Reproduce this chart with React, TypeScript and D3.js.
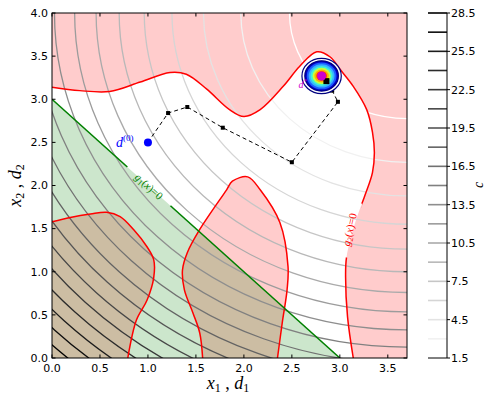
import * as d3 from "d3";

const W = 489;
const H = 394;
const PLOT = { left: 52, right: 407, top: 13, bottom: 358 };
const CBAR = { left: 428, right: 447 };

const X_TICKS = [0, 0.5, 1, 1.5, 2, 2.5, 3, 3.5];
const Y_TICKS = [0, 0.5, 1, 1.5, 2, 2.5, 3, 3.5, 4];

// contour levels of c (circles around CENTER, c = squared distance)
const LEVELS = [1.5, 3, 4.5, 6, 7.5, 9, 10.5, 12, 13.5, 15, 16.5, 18, 19.5, 21, 22.5, 24, 25.5, 27, 28.5];
const CBAR_LABELS = [1.5, 4.5, 7.5, 10.5, 13.5, 16.5, 19.5, 22.5, 25.5, 28.5];
const CENTER_X = 3.7;
const CENTER_Y = 4.0;

// g1(x) = 0 : straight boundary
const G1_X = [0, 3];
const G1_Y = [3, 0];

// g2(x) = 0 : three branches
const G2_TOP_X = [0, 0.29, 0.6, 0.92, 1.23, 1.4, 1.61, 1.85, 2.0, 2.17, 2.41, 2.58, 2.76, 2.9, 3.0, 3.14, 3.28, 3.34, 3.36, 3.34, 3.26, 3.16, 3.07, 3.06, 3.08, 3.14];
const G2_TOP_Y = [3.14, 3.1, 3.09, 3.2, 3.31, 3.29, 3.12, 2.88, 2.8, 2.88, 3.15, 3.38, 3.55, 3.49, 3.35, 3.15, 2.88, 2.62, 2.38, 2.15, 1.88, 1.57, 1.17, 0.94, 0.48, 0];
const G2_MID_X = [1.57, 1.54, 1.47, 1.38, 1.36, 1.41, 1.54, 1.82, 1.88, 2.04, 2.17, 2.375, 2.46, 2.45, 2.4, 2.35];
const G2_MID_Y = [0, 0.29, 0.52, 0.79, 1.02, 1.22, 1.49, 1.95, 2.05, 2.1, 1.95, 1.57, 1.06, 0.79, 0.41, 0];
const G2_LEFT_X = [0, 0.19, 0.4, 0.57, 0.71, 0.85, 0.99, 1.06, 1.06, 0.99, 0.88, 0.79];
const G2_LEFT_Y = [1.58, 1.63, 1.67, 1.69, 1.64, 1.49, 1.29, 1.14, 0.93, 0.67, 0.44, 0];

// optimisation path d(0) -> d*
const PATH_X = [1.0, 1.21, 1.41, 1.78, 2.5, 2.98, 2.92, 2.86];
const PATH_Y = [2.5, 2.84, 2.91, 2.67, 2.27, 2.97, 3.1, 3.21];
const OPT_X = 2.81;
const OPT_Y = 3.27;

// density rings around the optimum (outer to inner)
const RING_R = [0.205, 0.175, 0.155, 0.135, 0.115, 0.095, 0.075, 0.055];
const RING_FILL = ["#ffffff", "#0000c8", "#1c5cff", "#36b4ff", "#3ef2d6", "#c6ff3c", "#ffae00", "#ff3000"];

export default function App() {
  const x = d3.scaleLinear().domain([0, 3.7]).range([PLOT.left, PLOT.right]);
  const y = d3.scaleLinear().domain([0, 4]).range([PLOT.bottom, PLOT.top]);
  const cb = d3.scaleLinear().domain([1.5, 28.5]).range([PLOT.bottom, PLOT.top]);
  const gray = d3.scaleLinear<string>().domain([1.5, 28.5]).range(["#ffffff", "#000000"]);

  const pts = (xs: number[], ys: number[]) => xs.map((v, i) => [x(v), y(ys[i])] as [number, number]);
  const smooth = d3.line().curve(d3.curveCatmullRom.alpha(0.5));
  const straight = d3.line();

  const topLine = smooth(pts(G2_TOP_X, G2_TOP_Y)) ?? "";
  const midLine = smooth(pts(G2_MID_X, G2_MID_Y)) ?? "";
  const leftLine = smooth(pts(G2_LEFT_X, G2_LEFT_Y)) ?? "";
  const topArea = `${topLine}L${x(3.7)},${y(0)}L${x(3.7)},${y(4)}L${x(0)},${y(4)}Z`;
  const midArea = `${midLine}Z`;
  const leftArea = `${leftLine}L${x(0)},${y(0)}Z`;
  const g1Line = straight(pts(G1_X, G1_Y)) ?? "";
  const g1Area = `${g1Line}L${x(0)},${y(0)}Z`;
  const pathLine = straight(pts(PATH_X, PATH_Y)) ?? "";

  const g1Angle = (Math.atan2(y(0) - y(3), x(3) - x(0)) * 180) / Math.PI;
  const g1Lx = x(1.01);
  const g1Ly = y(1.99);
  const g2Lx = x(3.1);
  const g2Ly = y(1.49);

  const serif = "'Liberation Serif', 'DejaVu Serif', serif";
  const sans = "'DejaVu Sans', sans-serif";

  return (
    <svg width={W} height={H} style={{ position: "absolute", left: 0, top: 0, background: "#fff" }}>
      <defs>
        <clipPath id="plot">
          <rect x={PLOT.left} y={PLOT.top} width={PLOT.right - PLOT.left} height={PLOT.bottom - PLOT.top} />
        </clipPath>
        <mask id="g1gap">
          <rect x={0} y={0} width={W} height={H} fill="#fff" />
          <rect x={-29} y={-7} width={58} height={14} fill="#000" transform={`translate(${g1Lx},${g1Ly}) rotate(${g1Angle})`} />
        </mask>
        <mask id="g2gap">
          <rect x={0} y={0} width={W} height={H} fill="#fff" />
          <rect x={-28} y={-7} width={56} height={14} fill="#000" transform={`translate(${g2Lx},${g2Ly}) rotate(-77)`} />
        </mask>
      </defs>

      <g clipPath="url(#plot)">
        <path d={topArea} fill="rgba(255,0,0,0.2)" />
        <path d={midArea} fill="rgba(255,0,0,0.2)" />
        <path d={leftArea} fill="rgba(255,0,0,0.2)" />
        <path d={g1Area} fill="rgba(0,128,0,0.2)" />

        {LEVELS.map((l) => (
          <ellipse
            key={l}
            cx={x(CENTER_X)}
            cy={y(CENTER_Y)}
            rx={x(CENTER_X + Math.sqrt(l)) - x(CENTER_X)}
            ry={y(CENTER_Y) - y(CENTER_Y + Math.sqrt(l))}
            fill="none"
            stroke={gray(l)}
            strokeWidth={1.3}
          />
        ))}

        <g mask="url(#g2gap)" fill="none" stroke="#ff0000" strokeWidth={1.5}>
          <path d={topLine} />
          <path d={midLine} />
          <path d={leftLine} />
        </g>
        <path d={g1Line} mask="url(#g1gap)" fill="none" stroke="#008000" strokeWidth={1.5} />

        <path d={pathLine} fill="none" stroke="#000" strokeWidth={1} strokeDasharray="4,3" />
        {PATH_X.slice(1, -1).map((v, i) => (
          <rect key={i} x={x(v) - 2} y={y(PATH_Y[i + 1]) - 2} width={4} height={4} fill="#000" />
        ))}

        {RING_R.map((r, i) => (
          <ellipse
            key={r}
            cx={x(OPT_X)}
            cy={y(OPT_Y)}
            rx={x(OPT_X + r) - x(OPT_X)}
            ry={y(OPT_Y) - y(OPT_Y + r)}
            fill={RING_FILL[i]}
            stroke={i < 2 ? "#00007f" : "none"}
            strokeWidth={1.2}
          />
        ))}
        <rect x={x(PATH_X[7]) - 3} y={y(PATH_Y[7]) - 3} width={6} height={6} fill="#000" />
        <circle cx={x(OPT_X)} cy={y(OPT_Y)} r={4.5} fill="#cc00cc" />
        <circle cx={x(PATH_X[0])} cy={y(PATH_Y[0])} r={4} fill="#0000ff" />
      </g>

      {/* inline contour labels */}
      <text
        transform={`translate(${g1Lx},${g1Ly}) rotate(${g1Angle})`}
        textAnchor="middle"
        dy="0.35em"
        fill="#008000"
        fontFamily={serif}
        fontSize={11}
      >
        <tspan fontStyle="italic">g</tspan>
        <tspan fontSize={8} dy={2}>1</tspan>
        <tspan dy={-2}>(</tspan>
        <tspan fontStyle="italic">x</tspan>
        <tspan>)=0</tspan>
      </text>
      <text
        transform={`translate(${g2Lx},${g2Ly}) rotate(-77)`}
        textAnchor="middle"
        dy="0.35em"
        fill="#ff0000"
        fontFamily={serif}
        fontSize={11}
      >
        <tspan fontStyle="italic">g</tspan>
        <tspan fontSize={8} dy={2}>2</tspan>
        <tspan dy={-2}>(</tspan>
        <tspan fontStyle="italic">x</tspan>
        <tspan>)=0</tspan>
      </text>

      {/* point labels */}
      <text x={x(PATH_X[0]) - 32} y={y(PATH_Y[0]) + 5} fill="#0000ff" fontFamily={serif} fontSize={14}>
        <tspan fontStyle="italic">d</tspan>
        <tspan fontSize={9} dy={-6}>(0)</tspan>
      </text>
      <text x={x(OPT_X) - 23} y={y(OPT_Y) + 12} fill="#cc00cc" fontFamily={serif} fontSize={10}>
        <tspan fontStyle="italic">d</tspan>
        <tspan fontSize={7} dy={-5}>*</tspan>
      </text>

      {/* frame and inward ticks */}
      <rect
        x={PLOT.left}
        y={PLOT.top}
        width={PLOT.right - PLOT.left}
        height={PLOT.bottom - PLOT.top}
        fill="none"
        stroke="#000"
        strokeWidth={1}
      />
      {X_TICKS.map((t) => (
        <g key={t}>
          <line x1={x(t)} x2={x(t)} y1={PLOT.bottom} y2={PLOT.bottom - 3.5} stroke="#000" />
          <line x1={x(t)} x2={x(t)} y1={PLOT.top} y2={PLOT.top + 3.5} stroke="#000" />
          <text x={x(t)} y={PLOT.bottom + 14} textAnchor="middle" fontFamily={sans} fontSize={11}>
            {t.toFixed(1)}
          </text>
        </g>
      ))}
      {Y_TICKS.map((t) => (
        <g key={t}>
          <line x1={PLOT.left} x2={PLOT.left + 3.5} y1={y(t)} y2={y(t)} stroke="#000" />
          <line x1={PLOT.right} x2={PLOT.right - 3.5} y1={y(t)} y2={y(t)} stroke="#000" />
          <text x={PLOT.left - 4} y={y(t)} dy="0.35em" textAnchor="end" fontFamily={sans} fontSize={11}>
            {t.toFixed(1)}
          </text>
        </g>
      ))}

      {/* axis titles */}
      <text x={228} y={389} textAnchor="middle" fontFamily={serif} fontSize={18}>
        <tspan fontStyle="italic">x</tspan>
        <tspan fontSize={12} dy={3}>1</tspan>
        <tspan dy={-3}> , </tspan>
        <tspan fontStyle="italic">d</tspan>
        <tspan fontSize={12} dy={3}>1</tspan>
      </text>
      <text transform={`translate(21,${(PLOT.top + PLOT.bottom) / 2}) rotate(-90)`} textAnchor="middle" fontFamily={serif} fontSize={18}>
        <tspan fontStyle="italic">x</tspan>
        <tspan fontSize={12} dy={3}>2</tspan>
        <tspan dy={-3}> , </tspan>
        <tspan fontStyle="italic">d</tspan>
        <tspan fontSize={12} dy={3}>2</tspan>
      </text>

      {/* colorbar */}
      {LEVELS.map((l) => (
        <line key={l} x1={CBAR.left} x2={CBAR.right} y1={cb(l)} y2={cb(l)} stroke={gray(l)} strokeWidth={1.6} />
      ))}
      <line x1={CBAR.left} x2={CBAR.right} y1={cb(1.5)} y2={cb(1.5)} stroke="#000" strokeWidth={1} />
      <line x1={CBAR.right} x2={CBAR.right} y1={cb(28.5)} y2={cb(1.5)} stroke="#000" strokeWidth={1} />
      {CBAR_LABELS.map((l) => (
        <g key={l}>
          <line x1={CBAR.right} x2={CBAR.right + 3} y1={cb(l)} y2={cb(l)} stroke="#000" />
          <text x={CBAR.right + 4} y={cb(l)} dy="0.35em" fontFamily={sans} fontSize={11}>
            {l.toFixed(1)}
          </text>
        </g>
      ))}
      <text transform={`translate(483,185) rotate(-90)`} textAnchor="middle" fontFamily={serif} fontStyle="italic" fontSize={14}>
        c
      </text>
    </svg>
  );
}
